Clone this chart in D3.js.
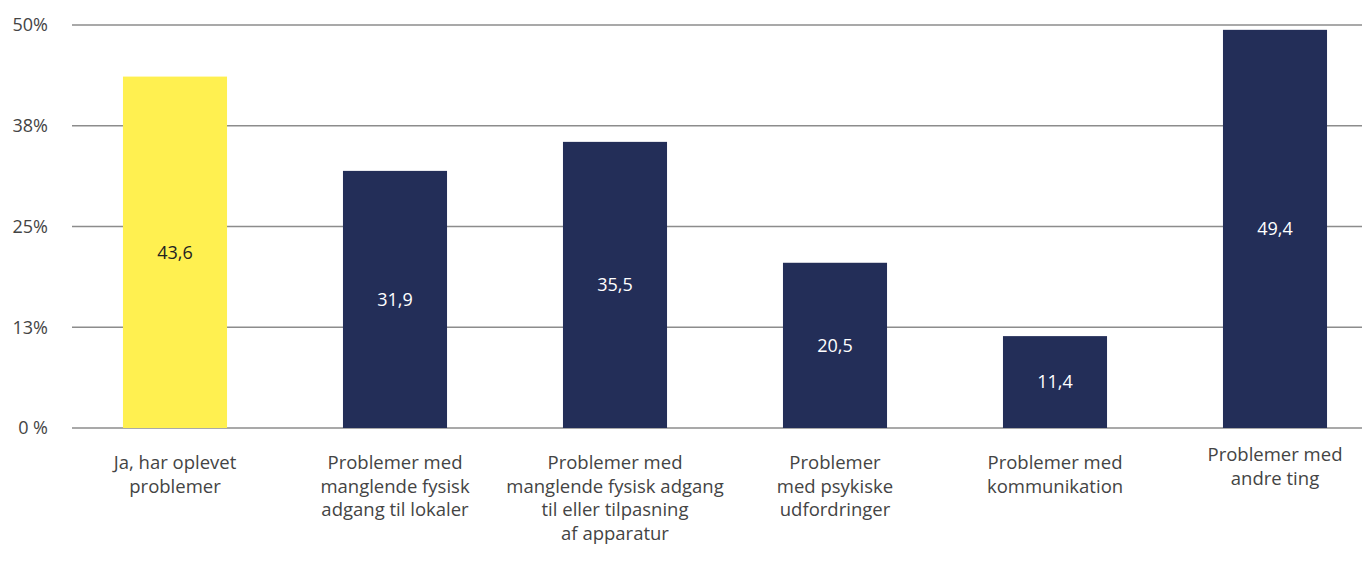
<!DOCTYPE html>
<html>
<head>
<meta charset="utf-8">
<script src="https://cdn.jsdelivr.net/npm/d3@7"></script>
<style>
  body { margin: 0; background: #fff; }
  svg { font-family: "Open Sans", sans-serif; }
</style>
</head>
<body>
<svg width="1362" height="579"></svg>
<script>
var categories = [
  ["Ja, har oplevet", "problemer"],
  ["Problemer med", "manglende fysisk", "adgang til lokaler"],
  ["Problemer med", "manglende fysisk adgang", "til eller tilpasning", "af apparatur"],
  ["Problemer", "med psykiske", "udfordringer"],
  ["Problemer med", "kommunikation"],
  ["Problemer med", "andre ting"]
];
var values = [43.6, 31.9, 35.5, 20.5, 11.4, 49.4];
var tickValues = [0, 12.5, 25, 37.5, 50];
var tickLabels = ["0 %", "13%", "25%", "38%", "50%"];

var svg = d3.select("svg"),
    top0 = 25, bottom0 = 428, left0 = 72, right0 = 1362;

var x = d3.scaleBand()
    .domain(d3.range(categories.length))
    .range([65, 1385])
    .paddingInner(0.527)
    .paddingOuter(0.2635);

var y = d3.scaleLinear().domain([0, 50]).range([bottom0, top0]);

// grid + y labels
var grid = svg.append("g");
grid.selectAll("line")
  .data(tickValues)
  .enter().append("line")
  .attr("x1", left0).attr("x2", right0)
  .attr("y1", function(d) { return y(d); })
  .attr("y2", function(d) { return y(d); })
  .attr("stroke", "#8c8c8c")
  .attr("stroke-width", 1.3);

grid.selectAll("text")
  .data(tickValues)
  .enter().append("text")
  .attr("x", 48)
  .attr("y", function(d) { return y(d); })
  .attr("dy", "0.35em")
  .attr("text-anchor", "end")
  .attr("fill", "#444")
  .attr("font-size", 18)
  .text(function(d, i) { return tickLabels[i]; });

// bars
svg.selectAll(".bar")
  .data(values)
  .enter().append("rect")
  .attr("class", "bar")
  .attr("x", function(d, i) { return x(i); })
  .attr("y", function(d) { return y(d); })
  .attr("width", x.bandwidth())
  .attr("height", function(d) { return bottom0 - y(d); })
  .attr("fill", function(d, i) { return i == 0 ? "#fff050" : "#232e58"; });

// value labels
svg.selectAll(".val")
  .data(values)
  .enter().append("text")
  .attr("class", "val")
  .attr("x", function(d, i) { return x(i) + x.bandwidth() / 2; })
  .attr("y", function(d) { return (y(d) + bottom0) / 2; })
  .attr("dy", "0.35em")
  .attr("text-anchor", "middle")
  .attr("font-size", 18)
  .attr("fill", function(d, i) { return i == 0 ? "#222" : "#fff"; })
  .text(function(d) { return d3.format(".1f")(d).replace(".", ","); });

// category labels
var cat = svg.selectAll(".cat")
  .data(categories)
  .enter().append("text")
  .attr("class", "cat")
  .attr("text-anchor", "middle")
  .attr("font-size", 18.5)
  .attr("fill", "#444")
  .attr("transform", function(d, i) {
    var yy = (i == 5) ? 461 : 469;
    return "translate(" + (x(i) + x.bandwidth() / 2) + "," + yy + ")";
  });

cat.selectAll("tspan")
  .data(function(d) { return d; })
  .enter().append("tspan")
  .attr("x", 0)
  .attr("y", function(d, i) { return i * 23.7; })
  .text(function(d) { return d; });
</script>
</body>
</html>
